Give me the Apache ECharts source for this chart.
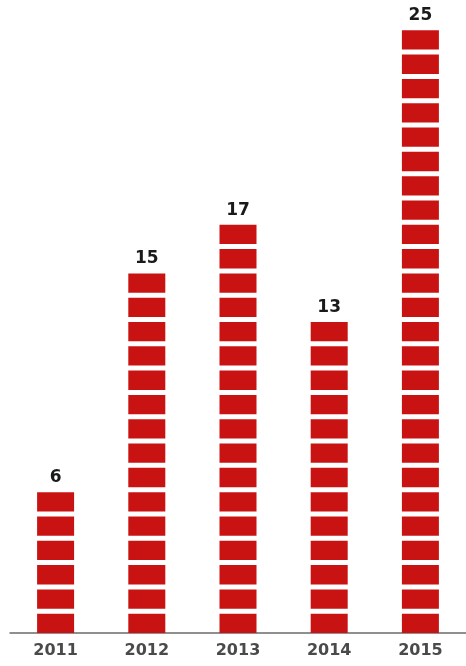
<!DOCTYPE html>
<html>
<head>
<meta charset="utf-8">
<script src="https://cdn.jsdelivr.net/npm/echarts@6/dist/echarts.min.js"></script>
<style>
  html, body { margin: 0; padding: 0; background: #ffffff; }
  #chart { width: 466px; height: 666px; }
</style>
</head>
<body>
<div id="chart"></div>
<script>
// Yearly counts, drawn as stacks of one block per unit
const years = ['2011', '2012', '2013', '2014', '2015'];
const counts = [6, 15, 17, 13, 25];

const chart = echarts.init(document.getElementById('chart'), null, { renderer: 'canvas' });

chart.setOption({
  animation: false,
  backgroundColor: '#ffffff',
  grid: { left: 10, top: 1, width: 464, height: 632, containLabel: false },
  xAxis: {
    type: 'category',
    data: years,
    axisLine: { show: true, lineStyle: { color: '#6b6b6b', width: 1.5 } },
    axisTick: { show: false },
    axisLabel: {
      color: '#4a4a4a',
      fontFamily: 'DejaVu Sans',
      fontWeight: 'bold',
      fontSize: 16,
      margin: 10
    }
  },
  yAxis: {
    type: 'value',
    min: 0,
    max: 26,
    show: false,
    splitLine: { show: false }
  },
  series: [{
    type: 'pictorialBar',
    data: counts,
    symbol: 'rect',
    symbolRepeat: true,
    // one block per unit: ~19px block with a ~2.5px gap on each side;
    // the '!' keeps the gap at both ends so the count equals the value
    // (block + margins kept a hair above one unit so the count never rounds up)
    symbolSize: [37, 19.3],
    symbolMargin: '2.52!',
    // sit the lowest block right on the axis line
    symbolOffset: [0, 2.5],
    itemStyle: { color: '#c91313' },
    label: {
      show: true,
      position: 'top',
      distance: 1,
      color: '#1a1a1a',
      fontFamily: 'DejaVu Sans',
      fontWeight: 'bold',
      fontSize: 17
    }
  }]
});
</script>
</body>
</html>
